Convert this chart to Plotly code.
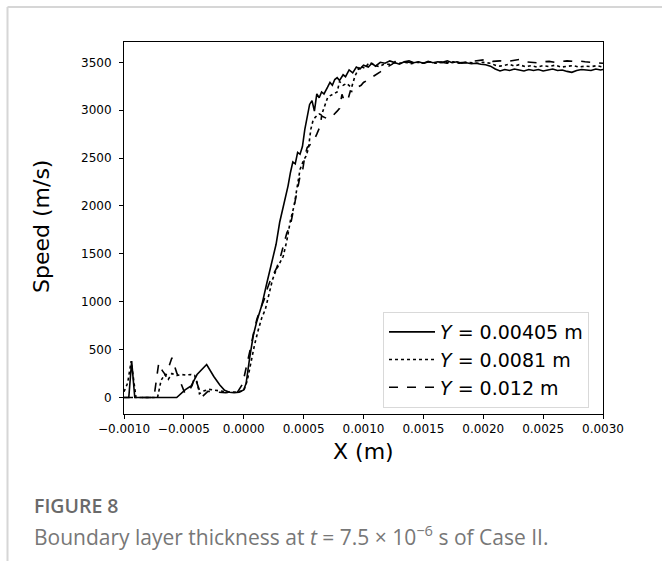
import plotly.graph_objects as go

# ---------------- data ----------------
solid_x = [-0.00100, -0.00096, -0.000936, -0.00091, -0.00090, -0.00080, -0.00070, -0.00060, -0.00056,
           -0.00049, -0.00044, -0.00039, -0.00035, -0.00031, -0.00025, -0.00020, -0.00016, -0.00012,
           -0.00008, -0.00004, 0.00000, 0.00002, 0.00005, 0.00008, 0.00011, 0.00015, 0.00019, 0.00023,
           0.00027, 0.00030, 0.00034, 0.00037, 0.00039, 0.00041, 0.00043, 0.00045, 0.00047, 0.00049,
           0.00051, 0.00053, 0.00055, 0.00057, 0.00059, 0.00061, 0.00063, 0.00065, 0.00067, 0.00070,
           0.00072, 0.00074, 0.00076, 0.00078, 0.00080, 0.00083, 0.00085, 0.00088, 0.00091, 0.00094,
           0.00097, 0.00100, 0.00104, 0.00107, 0.00110, 0.00114, 0.00118, 0.00122, 0.00126, 0.00130,
           0.00134, 0.00138, 0.00142, 0.00146, 0.00150, 0.00154, 0.00158, 0.00162, 0.00166, 0.00170,
           0.00174, 0.00178, 0.00182, 0.00186, 0.00190, 0.00194, 0.00198, 0.00202, 0.00206, 0.00210,
           0.00214, 0.00218, 0.00222, 0.00226, 0.00230, 0.00234, 0.00238, 0.00242, 0.00246, 0.00250,
           0.00254, 0.00258, 0.00262, 0.00266, 0.00270, 0.00274, 0.00278, 0.00282, 0.00286, 0.00290,
           0.00294, 0.00298, 0.00300]
solid_v = [0, 0, 380, 0, 0, 0, 0, 0, 0,
           80, 120, 240, 290, 345, 220, 130, 75, 55,
           50, 55, 80, 150, 420, 650, 800, 960, 1180, 1400,
           1600, 1830, 2030, 2210, 2350, 2460, 2440, 2560, 2540, 2620,
           2800, 2950, 3060, 3100, 2990, 3170, 3130, 3190, 3170, 3240,
           3290, 3260, 3320, 3340, 3310, 3370, 3350, 3420, 3390, 3450,
           3430, 3470, 3450, 3490, 3460, 3500, 3490, 3515, 3495, 3480,
           3505, 3515, 3495, 3505, 3490, 3510, 3495, 3505, 3500, 3515,
           3495, 3505, 3490, 3495, 3485, 3490, 3480, 3475, 3460, 3430,
           3410, 3425, 3415, 3430, 3420, 3410, 3425, 3415, 3425, 3410,
           3420, 3430, 3415, 3420, 3405, 3395, 3415, 3425, 3420, 3415,
           3430, 3420, 3425]

dot_x = [-0.00100, -0.00097, -0.00094, -0.00092, -0.00090, -0.00080, -0.00072, -0.00069, -0.00066,
         -0.00063, -0.00060, -0.00056, -0.00052, -0.00048, -0.00044, -0.00041, -0.00039, -0.00037,
         -0.00033, -0.00029, -0.00025, -0.00020, -0.00015, -0.00010, -0.00005, 0.00000, 0.00003,
         0.00006, 0.00009, 0.00012, 0.00015, 0.00018, 0.00021, 0.00024, 0.00027, 0.00030, 0.00033,
         0.00036, 0.00039, 0.00042, 0.00045, 0.00047, 0.00050, 0.00052, 0.00054, 0.00056, 0.00058,
         0.00060, 0.00063, 0.00065, 0.00068, 0.00070, 0.00072, 0.00075, 0.00078, 0.00080, 0.00083,
         0.00086, 0.00090, 0.00093, 0.00097, 0.00101, 0.00105, 0.00109, 0.00113, 0.00117, 0.00122,
         0.00126, 0.00130, 0.00135, 0.00140, 0.00145, 0.00150, 0.00155, 0.00160, 0.00165, 0.00170,
         0.00175, 0.00180, 0.00185, 0.00190, 0.00195, 0.00200, 0.00206, 0.00210, 0.00214, 0.00218,
         0.00222, 0.00226, 0.00230, 0.00235, 0.00240, 0.00245, 0.00250, 0.00255, 0.00260, 0.00265,
         0.00270, 0.00275, 0.00280, 0.00285, 0.00290, 0.00295, 0.00300]
dot_v = [60, 150, 380, 160, 0, 0, 0, 180, 240,
         190, 250, 230, 240, 235, 240, 230, 160, 40,
         70, 85, 75, 70, 60, 55, 60, 70, 180,
         380, 550, 700, 830, 920, 1080, 1230, 1330, 1400, 1475,
         1640, 1850, 2000, 2230, 2380, 2480, 2520, 2600, 2800, 2900,
         2930, 2960, 2950, 3060, 3130, 3150, 3170, 3190, 3300, 3260,
         3280, 3235, 3360, 3460, 3440, 3500, 3470, 3455, 3480, 3480,
         3495, 3490, 3500, 3485, 3500, 3490, 3505, 3490, 3500, 3495,
         3505, 3490, 3500, 3495, 3490, 3500, 3490, 3470, 3460, 3470,
         3480, 3460, 3475, 3455, 3465, 3450, 3465, 3455, 3470, 3450,
         3460, 3465, 3450, 3460, 3455, 3465, 3450]

dash_x = [-0.00100, -0.00080, -0.00075, -0.00071, -0.00068, -0.00065, -0.00062, -0.00060, -0.00056,
          -0.00052, -0.00049, -0.00046, -0.00043, -0.00041, -0.00038, -0.00035, -0.00030, -0.00025,
          -0.00020, -0.00015, -0.00010, -0.00005, -0.00001, 0.00002, 0.00005, 0.00008, 0.00011,
          0.00014, 0.00017, 0.00020, 0.00023, 0.00027, 0.00030, 0.00033, 0.00036, 0.00039, 0.00042,
          0.00045, 0.00047, 0.00049, 0.00051, 0.00053, 0.00056, 0.00058, 0.00061, 0.00064, 0.00065,
          0.00068, 0.00070, 0.00072, 0.00075, 0.00078, 0.00080, 0.00082, 0.00084, 0.00087, 0.00089,
          0.00092, 0.00095, 0.00098, 0.00100, 0.00103, 0.00106, 0.00109, 0.00111, 0.00114, 0.00117,
          0.00120, 0.00124, 0.00127, 0.00131, 0.00135, 0.00140, 0.00145, 0.00150, 0.00155, 0.00160,
          0.00165, 0.00170, 0.00175, 0.00180, 0.00185, 0.00192, 0.00197, 0.00203, 0.00208, 0.00214,
          0.00219, 0.00224, 0.00230, 0.00235, 0.00240, 0.00245, 0.00250, 0.00255, 0.00260, 0.00265,
          0.00270, 0.00275, 0.00280, 0.00285, 0.00290, 0.00295, 0.00300]
dash_v = [0, 0, 0, 360, 280, 230, 330, 415, 260,
          135, 40, 60, 130, 220, 100, 5, 65, 60,
          55, 50, 55, 60, 140, 300, 480, 660, 820,
          930, 1020, 1150, 1250, 1340, 1440, 1580, 1720, 1800, 2000,
          2180, 2310, 2360, 2520, 2610, 2640, 2670, 2750, 2840, 2940,
          2925, 2910, 2930, 2950, 2990, 3020, 3165, 3095, 3110, 3200,
          3190, 3240, 3260, 3290, 3310, 3330, 3360, 3375, 3400, 3430,
          3450, 3480, 3515, 3490, 3505, 3495, 3505, 3490, 3505, 3495,
          3500, 3490, 3505, 3495, 3500, 3510, 3520, 3530, 3510, 3515,
          3505, 3520, 3530, 3505, 3500, 3495, 3505, 3510, 3500, 3505,
          3515, 3510, 3515, 3505, 3500, 3495, 3490]

series_names = ["<i>Y</i> = 0.00405 m", "<i>Y</i> = 0.0081 m", "<i>Y</i> = 0.012 m"]

x_tickvals = [-0.0010, -0.0005, 0.0, 0.0005, 0.0010, 0.0015, 0.0020, 0.0025, 0.0030]
x_ticktext = ["\u22120.0010", "\u22120.0005", "0.0000", "0.0005", "0.0010", "0.0015",
              "0.0020", "0.0025", "0.0030"]
y_tickvals = [0, 500, 1000, 1500, 2000, 2500, 3000, 3500]

# ---------------- layout helpers (pixel -> paper) ----------------
W, H = 662, 561
L, R, T, B = 124, 59, 42, 147
PW, PH = W - L - R, H - T - B


def px(xp):
    return (xp - L) / PW


def py(yp):
    return (H - B - yp) / PH


fig = go.Figure()
for xs, vs, name, dash in [(solid_x, solid_v, series_names[0], "solid"),
                            (dot_x, dot_v, series_names[1], "dot"),
                            (dash_x, dash_v, series_names[2], "dash")]:
    fig.add_trace(go.Scatter(x=xs, y=vs, mode="lines", name=name,
                             line=dict(color="black", width=1.6, dash=dash)))

tick_font = dict(family="DejaVu Sans", size=12, color="black")
fig.update_xaxes(range=[-0.001, 0.003], tickvals=x_tickvals, ticktext=x_ticktext,
                 showgrid=False, zeroline=False, showline=True, linecolor="black", linewidth=1,
                 mirror=True, ticks="outside", ticklen=4, tickcolor="black", tickfont=tick_font)
fig.update_yaxes(range=[-172, 3712], tickvals=y_tickvals,
                 showgrid=False, zeroline=False, showline=True, linecolor="black", linewidth=1,
                 mirror=True, ticks="outside", ticklen=4, tickcolor="black", tickfont=tick_font,
                 ticklabelstandoff=5)

annotations = [
    dict(text="X (m)", x=px(363), y=py(452), xref="paper", yref="paper", showarrow=False,
         xanchor="center", yanchor="middle", font=dict(family="DejaVu Sans", size=22, color="black")),
    dict(text="Speed (m/s)", x=px(41), y=py(227), xref="paper", yref="paper", showarrow=False,
         textangle=-90, xanchor="center", yanchor="middle",
         font=dict(family="DejaVu Sans", size=22, color="black")),
    dict(text="FIGURE 8", x=px(32), y=py(505), xref="paper", yref="paper", showarrow=False,
         xanchor="left", yanchor="middle",
         font=dict(family="Open Sans", size=19.5, color="#6a6a6a", weight=600)),
    dict(text="Boundary layer thickness at <i>t</i> = 7.5 \u00d7 10<sup>\u22126</sup> s of Case II.",
         x=px(32), y=py(535), xref="paper", yref="paper", showarrow=False,
         xanchor="left", yanchor="middle", font=dict(family="Open Sans", size=21, color="#777777")),
]

shapes = [
    dict(type="line", xref="paper", yref="paper", x0=px(7.5), x1=px(662), y0=py(7), y1=py(7),
         line=dict(color="#d6d6d6", width=2)),
    dict(type="line", xref="paper", yref="paper", x0=px(7.5), x1=px(7.5), y0=py(7), y1=py(561),
         line=dict(color="#d6d6d6", width=2)),
]

fig.update_layout(
    width=W, height=H, margin=dict(l=L, r=R, t=T, b=B),
    paper_bgcolor="white", plot_bgcolor="white",
    showlegend=True,
    legend=dict(x=px(383), y=py(312), xanchor="left", yanchor="top",
                bgcolor="white", bordercolor="#d9d9d9", borderwidth=1,
                font=dict(family="DejaVu Sans", size=19, color="black"),
                itemwidth=46, tracegroupgap=0),
    annotations=annotations, shapes=shapes,
)

fig.write_html("out.html")
